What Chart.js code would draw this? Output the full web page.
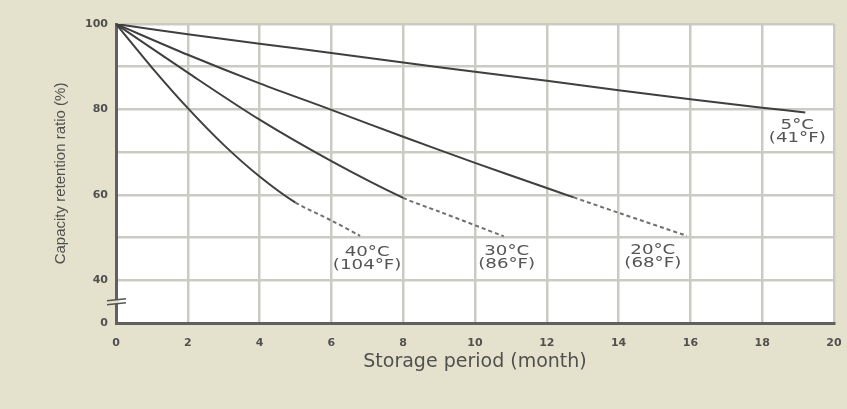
<!DOCTYPE html>
<html>
<head>
<meta charset="utf-8">
<script src="https://cdn.jsdelivr.net/npm/chart.js@4.4.1/dist/chart.umd.min.js"></script>
<style>
  html, body { margin: 0; padding: 0; background: #e4e2cc; }
  #wrap { width: 847px; height: 409px; }
</style>
</head>
<body>
<div id="wrap"><canvas id="chart" width="847" height="409"></canvas></div>
<script>
// storage period (months) and capacity retention (%)
var months5  = [0, 2, 4, 6, 8, 10, 12, 14, 16, 18, 19.2];
var ratio5   = [100, 97.6, 95.4, 93.2, 91, 88.8, 86.7, 84.5, 82.4, 80.4, 79.3];
var months20 = [0, 2, 4, 6, 8, 10, 12, 12.75, 14, 15.9];
var ratio20  = [100, 92.8, 86.1, 79.9, 73.6, 67.5, 61.6, 59.4, 55.8, 50.4];
var months30 = [0, 2, 4, 6, 8, 9, 10.8];
var ratio30  = [100, 88.6, 77.6, 67.9, 59.3, 56.1, 50.3];
var months40 = [0, 1, 2, 3, 4, 5, 6, 6.8];
var ratio40  = [100, 89.8, 80.3, 71.7, 64.3, 58.2, 54, 50.4];

// measured part ends here, the rest is dashed (estimated)
var solidUntil = [19.2, 12.75, 8, 5];

var seriesLabels = [
  ['5°C', '(41°F)'],
  ['20°C', '(68°F)'],
  ['30°C', '(86°F)'],
  ['40°C', '(104°F)']
];

// y axis is broken below 40: the bottom gridline (30) is labelled 0
var yLabelValues = [30, 40, 60, 80, 100];
var yLabelTexts  = ['0', '40', '60', '80', '100'];
var breakValue = 35;

function toPoints(xs, ys) {
  var pts = [];
  for (var i = 0; i < xs.length; i++) pts.push({ x: xs[i], y: ys[i] });
  return pts;
}

var allMonths = [months5, months20, months30, months40];
var allRatios = [ratio5, ratio20, ratio30, ratio40];

var datasets = allMonths.map(function (m, i) {
  var cut = solidUntil[i];
  return {
    label: seriesLabels[i].join(' '),
    data: toPoints(m, allRatios[i]),
    borderColor: '#3f3f3f',
    borderWidth: 2,
    pointRadius: 0,
    tension: 0.3,
    segment: {
      borderDash: function (c) { return c.p0.parsed.x >= cut - 1e-6 ? [4, 3] : undefined; },
      borderColor: function (c) { return c.p0.parsed.x >= cut - 1e-6 ? '#707070' : undefined; }
    }
  };
});

// label offsets from each curve's end point (px)
var labelOffsets = [[-8, 13], [-34, 14], [3, 15], [7, 16]];

var decor = {
  id: 'decor',
  beforeDraw: function (chart) {
    var a = chart.chartArea, c = chart.ctx;
    c.save();
    c.fillStyle = '#ffffff';
    c.fillRect(a.left, a.top, a.right - a.left, a.bottom - a.top);
    c.restore();
  },
  afterDraw: function (chart) {
    var c = chart.ctx;
    c.save();
    c.fillStyle = '#555';
    c.textAlign = 'center';
    c.textBaseline = 'middle';
    c.font = '14px "DejaVu Sans"';
    chart.data.datasets.forEach(function (ds, i) {
      var meta = chart.getDatasetMeta(i);
      var last = meta.data[meta.data.length - 1];
      var x = last.x + labelOffsets[i][0];
      var y = last.y + labelOffsets[i][1];
      seriesLabels[i].forEach(function (t, k) {
        c.save();
        c.translate(x, y + k * 13);
        c.scale(1.3, 1);
        c.fillText(t, 0, 0);
        c.restore();
      });
    });
    // axis break mark
    var ys = chart.scales.y;
    var bx = chart.chartArea.left;
    var by = ys.getPixelForValue(breakValue);
    c.fillStyle = '#e4e2cc';
    c.fillRect(bx - 3, by - 2, 6, 4);
    c.strokeStyle = '#555';
    c.lineWidth = 1.5;
    c.beginPath();
    c.moveTo(bx - 9, by - 1); c.lineTo(bx + 10, by - 3);
    c.moveTo(bx - 9, by + 3); c.lineTo(bx + 10, by + 1);
    c.stroke();
    c.restore();
  }
};

new Chart(document.getElementById('chart'), {
  type: 'line',
  data: { datasets: datasets },
  options: {
    responsive: false,
    animation: false,
    layout: { padding: { top: 24, right: 13, left: 0, bottom: 0 } },
    plugins: { legend: { display: false }, tooltip: { enabled: false } },
    scales: {
      x: {
        type: 'linear',
        min: 0, max: 20,
        afterFit: function (s) {
          s.height = 86;
          s.paddingLeft = 0;
          s.paddingRight = 0;
        },
        ticks: {
          stepSize: 2,
          padding: 14,
          color: '#505050',
          font: { family: 'DejaVu Sans', size: 11, weight: 'bold' },
          maxRotation: 0
        },
        grid: { color: '#cbcbc3', lineWidth: 2.5, drawTicks: false },
        border: { color: '#606060', width: 3 },
        title: {
          display: true,
          text: 'Storage period (month)',
          color: '#505050',
          font: { family: 'DejaVu Sans', size: 19 },
          padding: { top: 0, bottom: 36 }
        }
      },
      y: {
        min: 30, max: 100,
        afterFit: function (s) {
          s.width = 116;
          s.paddingTop = 0;
          s.paddingBottom = 0;
        },
        afterBuildTicks: function (s) {
          var t = [];
          for (var v = 30; v <= 100; v += 10) t.push({ value: v });
          s.ticks = t;
        },
        ticks: {
          padding: 8,
          color: '#505050',
          font: { family: 'DejaVu Sans', size: 11, weight: 'bold' },
          callback: function (v) {
            var k = yLabelValues.indexOf(v);
            return k >= 0 ? yLabelTexts[k] : '';
          }
        },
        grid: { color: '#cbcbc3', lineWidth: 2.5, drawTicks: false },
        border: { color: '#606060', width: 3 },
        title: {
          display: true,
          text: 'Capacity retention ratio (%)',
          color: '#505050',
          font: { family: 'Liberation Sans', size: 15 },
          padding: { top: 52, bottom: 0 }
        }
      }
    }
  },
  plugins: [decor]
});
</script>
</body>
</html>
